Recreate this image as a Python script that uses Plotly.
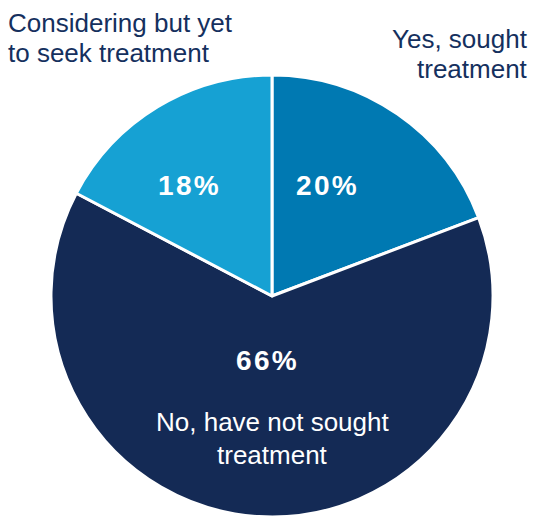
import plotly.graph_objects as go

categories = ["Yes, sought treatment", "No, have not sought treatment", "Considering but yet to seek treatment"]
values = [20, 66, 18]
colors = ["#0079B2", "#142A55", "#16A1D3"]

fig = go.Figure(go.Pie(
    labels=categories,
    values=values,
    sort=False,
    direction="clockwise",
    rotation=0,
    marker=dict(colors=colors, line=dict(color="white", width=3)),
    textinfo="none",
    hoverinfo="label+value",
    showlegend=False,
    domain=dict(x=[0.0926, 0.9148], y=[0.0, 0.855]),
))

font = "Liberation Sans, Arial, sans-serif"
pct_pos = [(326, 185), (266, 360), (188, 185)]
anns = []
for v, (px, py) in zip(values, pct_pos):
    anns.append(dict(x=px / 540, y=1 - py / 517, xref="paper", yref="paper",
                     text="<b>" + "\u200a".join(f"{v}%") + "</b>", showarrow=False,
                     font=dict(family=font, size=28, color="white"),
                     xanchor="center", yanchor="middle"))

def line(txt, x, y, anchor, color):
    return dict(x=x / 540, y=1 - y / 517, xref="paper", yref="paper",
                text=txt, showarrow=False, xanchor=anchor, yanchor="middle",
                font=dict(family=font, size=26, color=color))

navy = "#15305E"
anns += [
    line("Yes, sought", 530, 39, "right", navy),
    line("treatment", 530, 69, "right", navy),
    line("Considering but yet", 6, 23, "left", navy),
    line("to seek treatment", 6, 53, "left", navy),
    line("No, have not sought", 272, 422, "center", "white"),
    line("treatment", 272, 455, "center", "white"),
]

fig.update_layout(
    width=540, height=517,
    margin=dict(l=0, r=0, t=0, b=0),
    paper_bgcolor="white",
    annotations=anns,
)
fig.write_html("out.html")
